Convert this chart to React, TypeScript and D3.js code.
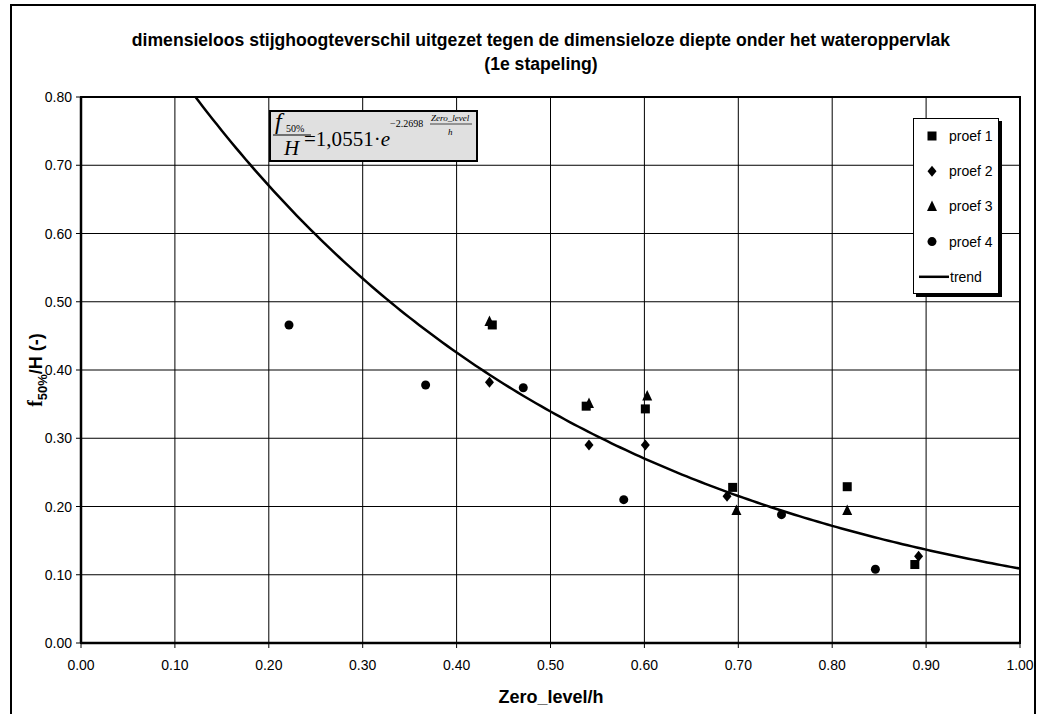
import React from "react";
import * as d3 from "d3";

const W = 1041;
const H = 714;

const xTicks = [0, 0.1, 0.2, 0.3, 0.4, 0.5, 0.6, 0.7, 0.8, 0.9, 1.0];
const yTicks = [0, 0.1, 0.2, 0.3, 0.4, 0.5, 0.6, 0.7, 0.8];

const proef1 = [
  [0.438, 0.466],
  [0.538, 0.347],
  [0.601, 0.343],
  [0.694, 0.228],
  [0.816, 0.229],
  [0.888, 0.115],
];
const proef2 = [
  [0.435, 0.382],
  [0.541, 0.29],
  [0.601, 0.29],
  [0.688, 0.215],
  [0.892, 0.127],
];
const proef3 = [
  [0.435, 0.471],
  [0.541, 0.351],
  [0.603, 0.362],
  [0.698, 0.194],
  [0.816, 0.194],
];
const proef4 = [
  [0.2215, 0.466],
  [0.367, 0.378],
  [0.471, 0.374],
  [0.578, 0.21],
  [0.746, 0.188],
  [0.846, 0.108],
];
const trendA = 1.0551;
const trendB = -2.2698;

const legendItems = ["proef 1", "proef 2", "proef 3", "proef 4", "trend"];

const x = d3.scaleLinear().domain([0, 1]).range([81, 1020]);
const y = d3.scaleLinear().domain([0, 0.8]).range([643, 97]);

function Marker({ type, cx, cy }: { type: string; cx: number; cy: number }) {
  if (type === "square") return <rect x={cx - 4.5} y={cy - 4.5} width={9} height={9} fill="#000" />;
  if (type === "diamond")
    return <path d={`M${cx},${cy - 5.5}L${cx + 4.5},${cy}L${cx},${cy + 5.5}L${cx - 4.5},${cy}Z`} fill="#000" />;
  if (type === "triangle")
    return <path d={`M${cx},${cy - 6}L${cx + 5},${cy + 4.5}L${cx - 5},${cy + 4.5}Z`} fill="#000" />;
  return <circle cx={cx} cy={cy} r={4.5} fill="#000" />;
}

export default function App() {
  const trendXs = d3.range(0, 1.0001, 0.005);
  const line = d3
    .line<number>()
    .x((d) => x(d))
    .y((d) => y(trendA * Math.exp(trendB * d)));
  const series = [
    { type: "square", data: proef1 },
    { type: "diamond", data: proef2 },
    { type: "triangle", data: proef3 },
    { type: "circle", data: proef4 },
  ];
  const font = "Liberation Sans, Arial, sans-serif";
  const serif = "Liberation Serif, Times New Roman, serif";
  return (
    <svg width={W} height={H} style={{ position: "absolute", left: 0, top: 0 }} fontFamily={font}>
      <rect x={0} y={0} width={W} height={H} fill="#fff" />
      <rect x={11} y={5} width={1024} height={720} fill="none" stroke="#000" strokeWidth={2} />
      <text x={541} y={46} textAnchor="middle" fontWeight="bold" fontSize={17.6}>
        dimensieloos stijghoogteverschil uitgezet tegen de dimensieloze diepte onder het wateroppervlak
      </text>
      <text x={541} y={70} textAnchor="middle" fontWeight="bold" fontSize={17.6}>
        (1e stapeling)
      </text>
      <defs>
        <clipPath id="plot">
          <rect x={x(0)} y={y(0.8)} width={x(1) - x(0)} height={y(0) - y(0.8)} />
        </clipPath>
      </defs>
      {xTicks.slice(1, -1).map((t) => (
        <line key={"gx" + t} x1={x(t)} x2={x(t)} y1={y(0)} y2={y(0.8)} stroke="#000" strokeWidth={1} />
      ))}
      {yTicks.slice(1, -1).map((t) => (
        <line key={"gy" + t} x1={x(0)} x2={x(1)} y1={y(t)} y2={y(t)} stroke="#000" strokeWidth={1} />
      ))}
      <rect x={x(0)} y={y(0.8)} width={x(1) - x(0)} height={y(0) - y(0.8)} fill="none" stroke="#000" strokeWidth={2} />
      <line x1={x(0)} x2={x(0)} y1={y(0)} y2={y(0.8)} stroke="#000" strokeWidth={2.5} />
      <line x1={x(0)} x2={x(1)} y1={y(0)} y2={y(0)} stroke="#000" strokeWidth={2.5} />
      {xTicks.map((t) => (
        <g key={"tx" + t}>
          <line x1={x(t)} x2={x(t)} y1={y(0)} y2={y(0) + 5} stroke="#000" strokeWidth={1} />
          <text x={x(t)} y={y(0) + 27} textAnchor="middle" fontSize={14}>
            {t.toFixed(2)}
          </text>
        </g>
      ))}
      {yTicks.map((t) => (
        <g key={"ty" + t}>
          <line x1={x(0) - 5} x2={x(0)} y1={y(t)} y2={y(t)} stroke="#000" strokeWidth={1} />
          <text x={x(0) - 9} y={y(t) + 5} textAnchor="end" fontSize={14}>
            {t.toFixed(2)}
          </text>
        </g>
      ))}
      <path d={line(trendXs) || ""} fill="none" stroke="#000" strokeWidth={2.5} clipPath="url(#plot)" />
      {series.map((s) =>
        s.data.map((d, i) => <Marker key={s.type + i} type={s.type} cx={x(d[0])} cy={y(d[1])} />)
      )}
      <text x={551} y={703} textAnchor="middle" fontWeight="bold" fontSize={18}>
        Zero_level/h
      </text>
      <text transform="translate(42,370) rotate(-90)" textAnchor="middle" fontWeight="bold" fontSize={18}>
        <tspan fontFamily={serif} fontSize={20}>f</tspan>
        <tspan fontSize={13} dy={5}>50%</tspan>
        <tspan dy={-5}>/H (-)</tspan>
      </text>
      {/* equation box */}
      <rect x={270} y={111} width={207} height={50} fill="#e0e0e0" stroke="#000" strokeWidth={2} />
      <g fontFamily={serif} fontStyle="italic">
        <text x={275} y={129} fontSize={24}>f</text>
        <text x={286} y={132} fontSize={10} fontStyle="normal">50%</text>
        <line x1={273} x2={311} y1={135} y2={135} stroke="#000" strokeWidth={1.2} />
        <text x={284} y={155} fontSize={21}>H</text>
        <text x={304} y={146} fontSize={21} fontStyle="normal" textLength={86} lengthAdjust="spacingAndGlyphs">=1,0551·<tspan fontStyle="italic">e</tspan></text>
        <text x={390} y={127} fontSize={10} fontStyle="normal">−2.2698</text>
        <text x={431} y={121} fontSize={9}>Zero_level</text>
        <line x1={430} x2={472} y1={124} y2={124} stroke="#000" strokeWidth={0.7} />
        <text x={448} y={135} fontSize={9}>h</text>
      </g>
      {/* legend */}
      <rect x={916} y={121} width={86} height={176} fill="#000" />
      <rect x={913.5} y={118.5} width={85} height={175} fill="#fff" stroke="#000" strokeWidth={1} />
      {legendItems.map((name, i) => {
        const cy = 136 + i * 35.2;
        return (
          <g key={name}>
            {i < 4 ? (
              <Marker type={series[i].type} cx={932} cy={cy} />
            ) : (
              <line x1={919} x2={949} y1={cy} y2={cy} stroke="#000" strokeWidth={2.5} />
            )}
            <text x={i < 4 ? 949 : 950} y={cy + 5} fontSize={14}>
              {name}
            </text>
          </g>
        );
      })}
    </svg>
  );
}
